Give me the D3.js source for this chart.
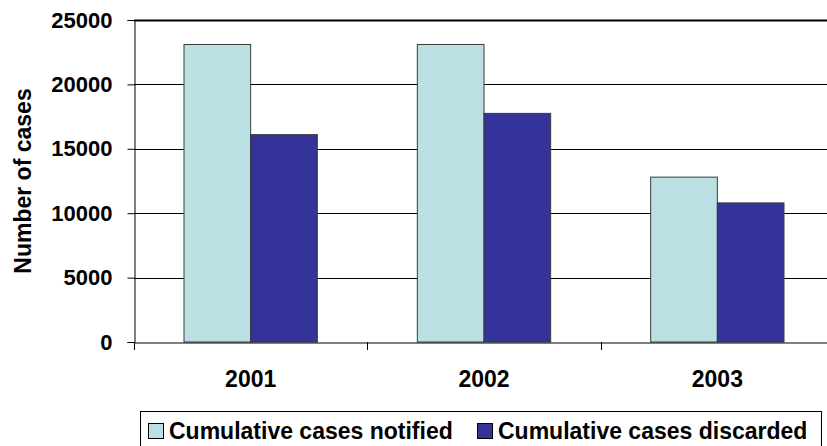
<!DOCTYPE html>
<html>
<head>
<meta charset="utf-8">
<script src="https://cdn.jsdelivr.net/npm/d3@7"></script>
<style>
  html, body { margin: 0; padding: 0; background: #fff; }
  svg { display: block; }
  text { font-family: "Liberation Sans", Arial, sans-serif; font-weight: bold; fill: #000; }
</style>
</head>
<body>
<svg id="chart" width="827" height="446"></svg>
<script>
const categories = ["2001", "2002", "2003"];
const seriesNames = ["Cumulative cases notified", "Cumulative cases discarded"];
const notified = [23100, 23100, 12800];
const discarded = [16100, 17750, 10800];
const yTicks = [0, 5000, 10000, 15000, 20000, 25000];
const colors = ["#BAE0E3", "#333399"];

(function () {
const svg = d3.select("#chart");
const mLeft = 134, mRight = 834, mTop = 20, mBottom = 342;
const FONT = "'Liberation Sans', Arial, sans-serif";

const x0 = d3.scaleBand().domain(categories).range([mLeft, mRight]).padding(0);
const bw = x0.bandwidth();
const barW = bw / 3.5;
const x1 = d3.scaleBand().domain(seriesNames).range([0.75 * barW, 2.75 * barW]).padding(0);
const y = d3.scaleLinear().domain([0, 25000]).range([mBottom, mTop]);

const data = categories.map((c, i) => ({ cat: c, values: [notified[i], discarded[i]] }));

// gridlines
svg.append("g").selectAll("line").data(yTicks.filter(t => t > 0)).join("line")
  .attr("x1", mLeft).attr("x2", 827)
  .attr("y1", d => Math.round(y(d)) + 0.5).attr("y2", d => Math.round(y(d)) + 0.5)
  .attr("stroke", "#000").attr("stroke-width", d => d === 25000 ? 2 : 1);

// bars
const groups = svg.append("g").selectAll("g").data(data).join("g")
  .attr("transform", d => `translate(${x0(d.cat)},0)`);
groups.selectAll("rect").data(d => d.values.map((v, j) => ({ v, j }))).join("rect")
  .attr("x", d => x1(seriesNames[d.j]))
  .attr("width", x1.bandwidth())
  .attr("y", d => y(d.v))
  .attr("height", d => y(0) - y(d.v))
  .attr("fill", d => colors[d.j])
  .attr("stroke", "#3a3a3a").attr("stroke-width", 1);

// y axis
const yAxis = d3.axisLeft(y).tickValues(yTicks).tickSize(7).tickPadding(15).tickFormat(d3.format("d"));
const gy = svg.append("g").attr("transform", `translate(${mLeft + 0.5},0)`).call(yAxis);
gy.select(".domain").attr("stroke", "#000");
gy.selectAll(".tick line").attr("stroke", "#000");
gy.selectAll(".tick text").style("font-size", "22px").style("font-weight", "bold")
  .style("font-family", FONT).attr("fill", "#000");

// x axis
const xAxis = d3.axisBottom(x0).tickSize(0).tickPadding(28);
const gx = svg.append("g").attr("transform", `translate(0,${mBottom + 0.5})`).call(xAxis);
gx.select(".domain").attr("stroke", "#000");
gx.selectAll(".tick text").style("font-size", "23px").style("font-weight", "bold")
  .style("font-family", FONT).attr("fill", "#000");
// category separator ticks
svg.append("g").selectAll("line").data(categories).join("line")
  .attr("x1", d => Math.round(x0(d)) + 0.5).attr("x2", d => Math.round(x0(d)) + 0.5)
  .attr("y1", mBottom).attr("y2", mBottom + 8)
  .attr("stroke", "#000");

// y label
svg.append("text")
  .attr("transform", `translate(31,${(mTop + mBottom) / 2}) rotate(-90)`)
  .attr("text-anchor", "middle")
  .style("font-size", "23px")
  .text("Number of cases");

// legend
const lg = svg.append("g");
lg.append("rect").attr("x", 140.5).attr("y", 411.5).attr("width", 681).attr("height", 40)
  .attr("fill", "#fff").attr("stroke", "#000");
const items = [{ x: 148, name: seriesNames[0], c: colors[0] }, { x: 477, name: seriesNames[1], c: colors[1] }];
items.forEach(it => {
  lg.append("rect").attr("x", it.x + 0.5).attr("y", 423.5).attr("width", 15).attr("height", 15)
    .attr("fill", it.c).attr("stroke", "#000");
  lg.append("text").attr("x", it.x + 21).attr("y", 439).style("font-size", "23px").text(it.name);
});
})();
</script>
</body>
</html>
